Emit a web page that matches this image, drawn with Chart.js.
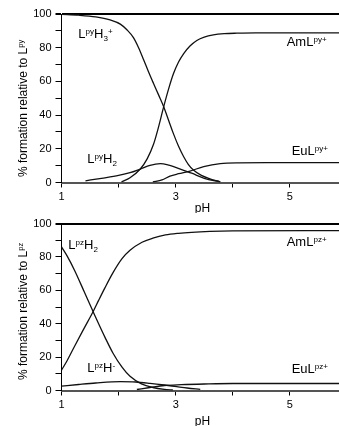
<!DOCTYPE html>
<html>
<head>
<meta charset="utf-8">
<script src="https://cdn.jsdelivr.net/npm/chart.js@4"></script>
<style>
    html, body { margin: 0; padding: 0; background: #fff; }
    .box { position: absolute; left: 0; width: 339px; height: 213px; }
</style>
</head>
<body>
<div class="box" style="top:0"><canvas id="chartPy" width="339" height="213"></canvas></div>
<div class="box" style="top:213px"><canvas id="chartPz" width="339" height="213"></canvas></div>
<script>
// Tick labels shown on the axes.
const xTickLabels = [1, 3, 5];
const yTickLabels = [0, 20, 40, 60, 80, 100];

// Upper panel: L(py) species, pH and % formation.
const pyH3PH = [1.0, 1.3, 1.6, 1.85, 2.03, 2.15, 2.26, 2.35, 2.44, 2.52, 2.61, 2.7, 2.79, 2.88, 2.96, 3.05, 3.14, 3.22, 3.31, 3.45, 3.6, 3.78];
const pyH3Val = [99.8, 99.3, 98.3, 96.5, 94, 90.5, 86, 80, 72.7, 66, 58.9, 52, 45, 36.5, 29, 21.5, 15.3, 10.8, 7.4, 4.2, 2.2, 0.4];
const pyH2PH = [1.42, 1.7, 2.0, 2.2, 2.38, 2.55, 2.73, 2.88, 3.0, 3.14, 3.28, 3.5, 3.78];
const pyH2Val = [1, 2.5, 4.2, 5.8, 8, 10.2, 11.2, 10.3, 9, 7.2, 5.5, 2.5, 0.4];
const pyAmPH = [2.05, 2.2, 2.38, 2.5, 2.61, 2.7, 2.79, 2.88, 2.96, 3.05, 3.14, 3.25, 3.37, 3.5, 3.66, 3.85, 4.07, 4.4, 5.86];
const pyAmVal = [0.3, 2.8, 8, 14, 22.5, 33, 45, 56, 64.5, 71.5, 76.5, 81, 84.3, 86.3, 87.6, 88.3, 88.6, 88.8, 88.8];
const pyEuPH = [2.6, 2.76, 2.9, 3.05, 3.25, 3.49, 3.78, 4.1, 4.6, 5.86];
const pyEuVal = [0.3, 1.5, 3.8, 5.2, 6.8, 9.4, 11.2, 11.7, 11.8, 11.8];

// Lower panel: L(pz) species.
const pzH2PH = [1.0, 1.1, 1.236, 1.4, 1.557, 1.65, 1.76, 1.9, 2.06, 2.2, 2.4, 2.6, 2.8, 2.95];
const pzH2Val = [86, 80.5, 71.5, 59, 47, 40, 32, 22.5, 14, 8.5, 4, 1.8, 0.7, 0.3];
const pzHPH = [1.0, 1.3, 1.6, 2.03, 2.3, 2.55, 2.8, 3.02, 3.2, 3.43];
const pzHVal = [2.6, 3.6, 4.5, 5.3, 5.1, 4.3, 3.3, 2.3, 1.5, 0.7];
const pzAmPH = [1.0, 1.1, 1.236, 1.4, 1.557, 1.65, 1.76, 1.9, 2.06, 2.2, 2.41, 2.6, 2.82, 3.05, 3.28, 3.6, 4.0, 5.86];
const pzAmVal = [12.2, 18, 27, 37.5, 47.5, 54, 61.5, 70.5, 79, 84, 88.8, 91.3, 93.2, 94.2, 94.8, 95.3, 95.6, 95.8];
const pzEuPH = [2.32, 2.55, 2.8, 3.1, 3.5, 4.0, 5.86];
const pzEuVal = [0.6, 1.8, 3, 3.5, 3.9, 4.2, 4.2];

const fontFamily = '"Liberation Sans", Arial, sans-serif';

/**
 * Pairs pH values with percentages for a scatter line.
 */
function toPoints( ph, values ) {
    return ph.map( function( p, i ) { return { x: p, y: values[i] }; } );
}

function lineSet( ph, values ) {
    return {
        data: toPoints( ph, values ),
        borderColor: '#111',
        borderWidth: 1.3,
        pointRadius: 0,
        fill: false,
        showLine: true,
        cubicInterpolationMode: 'monotone'
    };
}

/**
 * Draws text parts, each either normal, superscript or subscript.
 * Returns the width used.
 */
function drawRich( ctx, x, y, parts, size, measureOnly ) {
    let cx = x;
    parts.forEach( function( p ) {
        let fs = size, dy = 0;
        if ( p[1] === 'sup' ) { fs = size * 0.62; dy = -size * 0.3; }
        if ( p[1] === 'sub' ) { fs = size * 0.62; dy = size * 0.22; }
        ctx.font = fs + 'px ' + fontFamily;
        if ( !measureOnly ) ctx.fillText( p[0], cx, y + dy );
        cx += ctx.measureText( p[0] ).width;
    });
    return cx - x;
}

// Plugin for the species labels and the axis titles (they need sub/superscripts).
const textPlugin = {
    id: 'texts',
    afterDraw: function( chart ) {
        const o = chart.options.plugins.texts;
        const ctx = chart.ctx;
        ctx.save();
        ctx.fillStyle = '#000';
        ctx.textBaseline = 'alphabetic';
        ctx.textAlign = 'left';
        o.labels.forEach( function( l ) {
            drawRich( ctx, l.x, l.y, l.parts, 13 );
        });
        // Rotated y-axis title.
        const w = drawRich( ctx, 0, 0, o.yTitle, 12, true );
        ctx.save();
        ctx.translate( 27, o.yTitleCenter + w / 2 );
        ctx.rotate( -Math.PI / 2 );
        drawRich( ctx, 0, 0, o.yTitle, 12 );
        ctx.restore();
        // x-axis title.
        ctx.font = '12px ' + fontFamily;
        ctx.textAlign = 'center';
        ctx.fillText( 'pH', 202.5, o.xTitleY );
        ctx.restore();
    }
};

function createChart( canvas, datasets, padTop, xHeight, texts ) {
    return new Chart( canvas, {
        type: 'scatter',
        data: { datasets: datasets },
        plugins: [textPlugin],
        options: {
            responsive: false,
            animation: false,
            layout: { padding: { left: 0, right: 0, top: padTop, bottom: 0 } },
            plugins: {
                legend: { display: false },
                tooltip: { enabled: false },
                texts: texts
            },
            scales: {
                x: {
                    type: 'linear',
                    min: 1,
                    max: 5.86,
                    afterFit: function( s ) { s.height = xHeight; },
                    border: { display: true, color: '#555', width: 2 },
                    grid: { drawOnChartArea: false, drawTicks: true, tickLength: 5, tickColor: '#000' },
                    ticks: {
                        stepSize: 1,
                        includeBounds: false,
                        autoSkip: false,
                        maxRotation: 0,
                        padding: 3,
                        color: '#000',
                        font: { family: fontFamily, size: 11 },
                        callback: function( v ) { return xTickLabels.indexOf( v ) >= 0 ? String( v ) : ''; }
                    }
                },
                y: {
                    min: 0,
                    max: 100,
                    afterFit: function( s ) { s.width = 61.5; },
                    border: { display: true, color: '#000', width: 1 },
                    grid: {
                        drawOnChartArea: true,
                        tickLength: 6,
                        tickColor: '#000',
                        color: function( c ) { return c.tick && c.tick.value === 100 ? '#000' : 'rgba(0,0,0,0)'; },
                        lineWidth: function( c ) { return c.tick && c.tick.value === 100 ? 2 : 1; }
                    },
                    ticks: {
                        stepSize: 10,
                        autoSkip: false,
                        padding: 4,
                        color: '#000',
                        font: { family: fontFamily, size: 11 },
                        callback: function( v ) { return yTickLabels.indexOf( v ) >= 0 ? String( v ) : ''; }
                    }
                }
            }
        }
    });
}

createChart( document.getElementById( 'chartPy' ), [
    lineSet( pyH3PH, pyH3Val ),
    lineSet( pyH2PH, pyH2Val ),
    lineSet( pyAmPH, pyAmVal ),
    lineSet( pyEuPH, pyEuVal )
], 14, 30.5, {
    labels: [
        { x: 78.3, y: 38.3, parts: [['L'], ['py', 'sup'], ['H'], ['3', 'sub'], ['+', 'sup']] },
        { x: 87.3, y: 163.3, parts: [['L'], ['py', 'sup'], ['H'], ['2', 'sub']] },
        { x: 286.7, y: 45.7, parts: [['AmL'], ['py+', 'sup']] },
        { x: 291.7, y: 155, parts: [['EuL'], ['py+', 'sup']] }
    ],
    yTitle: [['% formation relative to L'], ['py', 'sup']],
    yTitleCenter: 108.5,
    xTitleY: 212
});

createChart( document.getElementById( 'chartPz' ), [
    lineSet( pzH2PH, pzH2Val ),
    lineSet( pzHPH, pzHVal ),
    lineSet( pzAmPH, pzAmVal ),
    lineSet( pzEuPH, pzEuVal )
], 10, 35.5, {
    labels: [
        { x: 68.3, y: 36.3, parts: [['L'], ['pz', 'sup'], ['H'], ['2', 'sub']] },
        { x: 87.3, y: 158.7, parts: [['L'], ['pz', 'sup'], ['H'], ['-', 'sup']] },
        { x: 286.7, y: 32.7, parts: [['AmL'], ['pz+', 'sup']] },
        { x: 291.7, y: 159.7, parts: [['EuL'], ['pz+', 'sup']] }
    ],
    yTitle: [['% formation relative to L'], ['pz', 'sup']],
    yTitleCenter: 98.5,
    xTitleY: 212.3
});
</script>
</body>
</html>
